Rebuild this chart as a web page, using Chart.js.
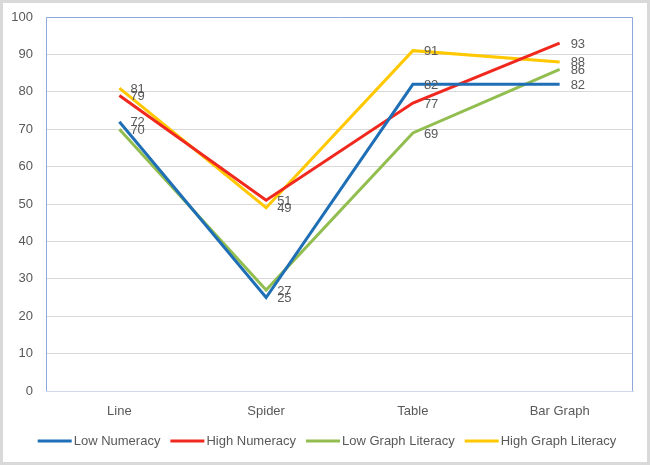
<!DOCTYPE html>
<html>
<head>
<meta charset="utf-8">
<script src="https://cdn.jsdelivr.net/npm/chart.js@4/dist/chart.umd.min.js"></script>
<style>
  html, body { margin: 0; padding: 0; background: #fff; }
  #wrap { width: 650px; height: 465px; }
</style>
</head>
<body>
<div id="wrap"><canvas id="myChart" width="650" height="465"></canvas></div>
<script>
const categories = ['Line', 'Spider', 'Table', 'Bar Graph'];
const lowNumeracy = [72, 25, 82, 82];
const highNumeracy = [79, 51, 77, 93];
const lowGraphLiteracy = [70, 27, 69, 86];
const highGraphLiteracy = [81, 49, 91, 88];
const yTicks = [0, 10, 20, 30, 40, 50, 60, 70, 80, 90, 100];

const font = "'Liberation Sans', Arial, sans-serif";
const textColor = '#595959';

// white background + grey outer frame + light blue plot box
const framePlugin = {
    id: 'frame',
    beforeDraw(chart) {
        const ctx = chart.ctx;
        ctx.save();
        ctx.fillStyle = '#fff';
        ctx.fillRect(0, 0, chart.width, chart.height);
        ctx.strokeStyle = '#d9d9d9';
        ctx.lineWidth = 3;
        ctx.strokeRect(1.5, 1.5, chart.width - 3, chart.height - 3);
        ctx.restore();
    },
    afterDraw(chart) {
        const a = chart.chartArea;
        const ctx = chart.ctx;
        ctx.save();
        ctx.strokeStyle = '#8eaadb';
        ctx.lineWidth = 1;
        ctx.beginPath();
        ctx.moveTo(Math.round(a.left) + 0.5, Math.round(a.bottom));
        ctx.lineTo(Math.round(a.left) + 0.5, Math.round(a.top) + 0.5);
        ctx.lineTo(Math.round(a.right) - 0.5, Math.round(a.top) + 0.5);
        ctx.lineTo(Math.round(a.right) - 0.5, Math.round(a.bottom));
        ctx.stroke();
        ctx.restore();
    }
};

// value labels to the right of each point
const valueLabels = {
    id: 'valueLabels',
    afterDatasetsDraw(chart) {
        const ctx = chart.ctx;
        ctx.save();
        ctx.font = '13px ' + font;
        ctx.fillStyle = textColor;
        ctx.textAlign = 'left';
        ctx.textBaseline = 'middle';
        chart.data.datasets.forEach(function(ds, i) {
            const meta = chart.getDatasetMeta(i);
            meta.data.forEach(function(pt, j) {
                ctx.fillText(String(ds.data[j]), pt.x + 11, pt.y + 1);
            });
        });
        ctx.restore();
    }
};

// excel-like legend: long line sample hugging the text
const lineLegend = {
    id: 'lineLegend',
    afterDraw(chart) {
        const ctx = chart.ctx;
        const sample = 34, gap = 2, spacing = 10, y = 441;
        ctx.save();
        ctx.font = '13px ' + font;
        ctx.textBaseline = 'middle';
        const items = chart.data.datasets.map(ds => ({
            label: ds.label, color: ds.borderColor, w: ctx.measureText(ds.label).width
        }));
        let total = items.reduce((s, it) => s + sample + gap + it.w, 0) + spacing * (items.length - 1);
        let x = 327 - total / 2;
        items.forEach(function(it) {
            ctx.strokeStyle = it.color;
            ctx.lineWidth = 3;
            ctx.beginPath();
            ctx.moveTo(x, y);
            ctx.lineTo(x + sample, y);
            ctx.stroke();
            ctx.fillStyle = textColor;
            ctx.fillText(it.label, x + sample + gap, y);
            x += sample + gap + it.w + spacing;
        });
        ctx.restore();
    }
};

function series(label, data, color) {
    return {
        label: label,
        data: data,
        borderColor: color,
        backgroundColor: color,
        borderWidth: 3,
        pointRadius: 0,
        tension: 0
    };
}

const myChart = new Chart(document.getElementById('myChart'), {
    type: 'line',
    data: {
        labels: categories,
        datasets: [
            series('Low Numeracy', lowNumeracy, '#1f6fb6'),
            series('High Numeracy', highNumeracy, '#f0281e'),
            series('Low Graph Literacy', lowGraphLiteracy, '#92bd4f'),
            series('High Graph Literacy', highGraphLiteracy, '#ffc800')
        ]
    },
    options: {
        responsive: false,
        animation: false,
        layout: { padding: { top: 17, right: 17, bottom: 39, left: 0 } },
        scales: {
            x: {
                offset: true,
                grid: { display: false, offset: true },
                border: { display: true, color: '#d0d8e8', width: 1 },
                ticks: { color: textColor, font: { family: font, size: 13 }, padding: 5 },
                afterFit(scale) { scale.height = 35; }
            },
            y: {
                min: 0,
                max: 100,
                afterBuildTicks(scale) { scale.ticks = yTicks.map(v => ({ value: v })); },
                grid: { color: '#d9d9d9', drawTicks: false },
                border: { display: false },
                ticks: { color: textColor, font: { family: font, size: 13 }, padding: 13 },
                afterFit(scale) {
                    scale.width = 46;
                    scale.paddingTop = 0;
                    scale.paddingBottom = 0;
                }
            }
        },
        plugins: {
            legend: { display: false },
            tooltip: { enabled: false }
        }
    },
    plugins: [framePlugin, valueLabels, lineLegend]
});
</script>
</body>
</html>
